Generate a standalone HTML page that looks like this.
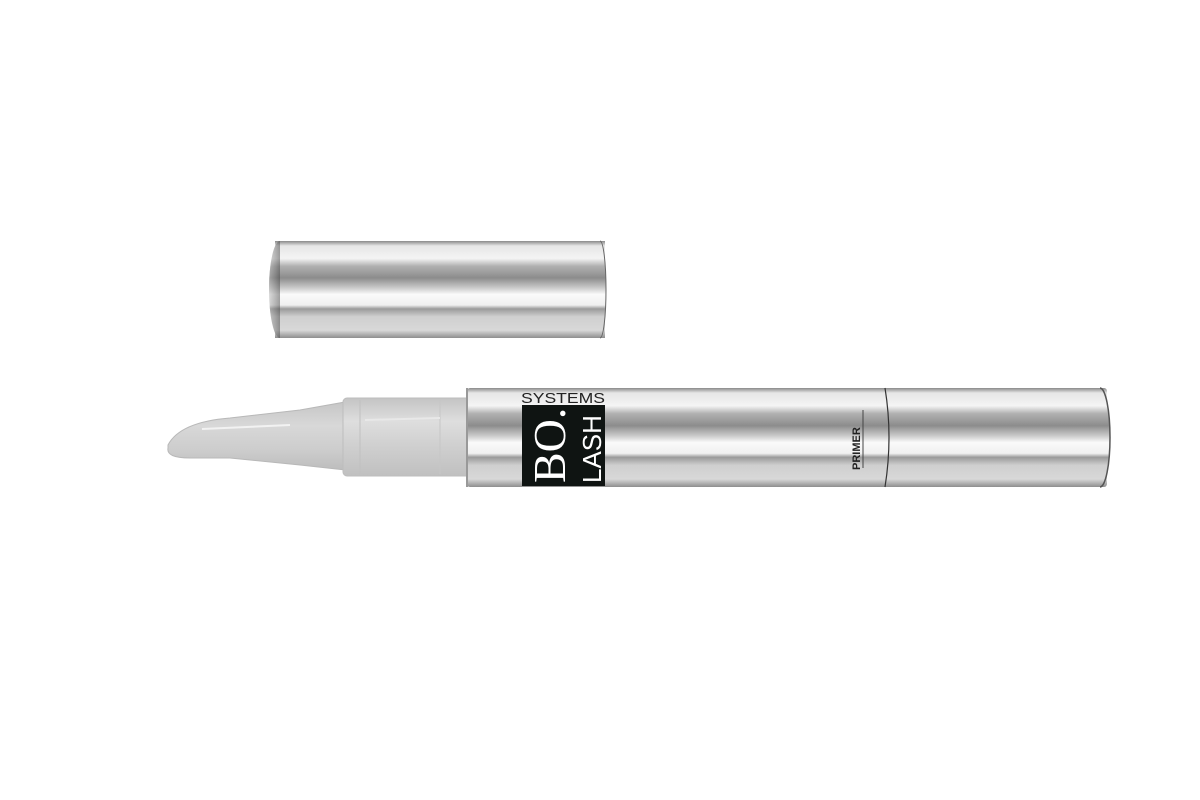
<!DOCTYPE html>
<html><head><style>html,body{margin:0;padding:0;background:#fff;width:1200px;height:800px;overflow:hidden}</style></head>
<body>
<svg width="1200" height="800" viewBox="0 0 1200 800" xmlns="http://www.w3.org/2000/svg">
<defs>
<linearGradient id="m" x1="0" y1="0" x2="0" y2="1">
<stop offset="0" stop-color="#8a8a8a"/>
<stop offset="0.05" stop-color="#e6e6e6"/>
<stop offset="0.18" stop-color="#f4f4f4"/>
<stop offset="0.26" stop-color="#b0b0b0"/>
<stop offset="0.38" stop-color="#8c8c8c"/>
<stop offset="0.48" stop-color="#c8c8c8"/>
<stop offset="0.55" stop-color="#fafafa"/>
<stop offset="0.66" stop-color="#f0f0f0"/>
<stop offset="0.70" stop-color="#9a9a9a"/>
<stop offset="0.78" stop-color="#cfcfcf"/>
<stop offset="0.92" stop-color="#d8d8d8"/>
<stop offset="1" stop-color="#8e8e8e"/>
</linearGradient>
<linearGradient id="end" x1="0" y1="0" x2="1" y2="0">
<stop offset="0" stop-color="#bbb"/><stop offset="0.6" stop-color="#777"/><stop offset="1" stop-color="#444"/>
</linearGradient>
<linearGradient id="cl" x1="0" y1="0" x2="0" y2="1">
<stop offset="0" stop-color="#c4c4c4"/><stop offset="0.3" stop-color="#dedede"/>
<stop offset="0.6" stop-color="#d0d0d0"/><stop offset="1" stop-color="#c0c0c0"/>
</linearGradient>
<linearGradient id="tp" x1="0" y1="0" x2="0" y2="1">
<stop offset="0" stop-color="#c6c6c6"/><stop offset="0.35" stop-color="#d8d8d8"/>
<stop offset="0.7" stop-color="#cdcdcd"/><stop offset="1" stop-color="#bdbdbd"/>
</linearGradient>
</defs>
<!-- cap -->
<rect x="275" y="241" width="330" height="97" fill="url(#m)"/>
<ellipse cx="280" cy="289.5" rx="11" ry="48.5" fill="url(#m)"/>
<path d="M280 241 A11 48.5 0 0 0 280 338" fill="url(#end)" opacity="0.5"/>
<path d="M600 241 A6 48.5 0 0 1 600 338" fill="url(#m)" stroke="#666" stroke-width="1"/>
<!-- tip -->
<path d="M168 445 Q180 422 230 418 L300 410 L345 402 L345 470 L300 465 L230 458 L190 458 Q166 458 168 448 Z" fill="url(#tp)" stroke="#b8b8b8" stroke-width="1"/>
<line x1="202" y1="429" x2="290" y2="425" stroke="#f2f2f2" stroke-width="2"/>
<!-- collar -->
<rect x="343" y="398" width="128" height="78" rx="4" fill="url(#cl)" stroke="#bdbdbd"/>
<line x1="360" y1="400" x2="360" y2="474" stroke="#c0c0c0"/>
<line x1="440" y1="400" x2="440" y2="474" stroke="#c6c6c6"/>
<line x1="365" y1="420" x2="440" y2="418" stroke="#e8e8e8" stroke-width="2"/>
<!-- body -->
<rect x="467" y="388" width="640" height="99" rx="3" fill="url(#m)"/>
<path d="M1100 388 A10 49.5 0 0 1 1100 487" fill="url(#m)" stroke="#555" stroke-width="1.5"/>
<line x1="467" y1="388" x2="467" y2="487" stroke="#999" stroke-width="2"/>
<path d="M885 388 Q893 437 885 487" fill="none" stroke="#333" stroke-width="1.2"/>
<!-- logo -->
<text x="521" y="403" font-family="Liberation Sans, sans-serif" font-size="15" fill="#222" textLength="84" lengthAdjust="spacingAndGlyphs">SYSTEMS</text>
<rect x="522" y="405" width="83" height="81" fill="#0f1412"/>
<g transform="translate(565,485) rotate(-90)">
<text x="2" y="0" font-family="Liberation Serif, serif" font-size="46" fill="#fff">BO.</text>
</g>
<g transform="translate(601,485) rotate(-90)">
<text x="2" y="0" font-family="Liberation Sans, sans-serif" font-size="26" fill="#fff">LASH</text>
</g>
<g transform="translate(860,470) rotate(-90)">
<text x="0" y="0" font-family="Liberation Sans, sans-serif" font-weight="bold" font-size="11" fill="#222">PRIMER</text>
</g>
<line x1="863" y1="468" x2="863" y2="410" stroke="#444" stroke-width="1"/>
</svg>
</body></html>
